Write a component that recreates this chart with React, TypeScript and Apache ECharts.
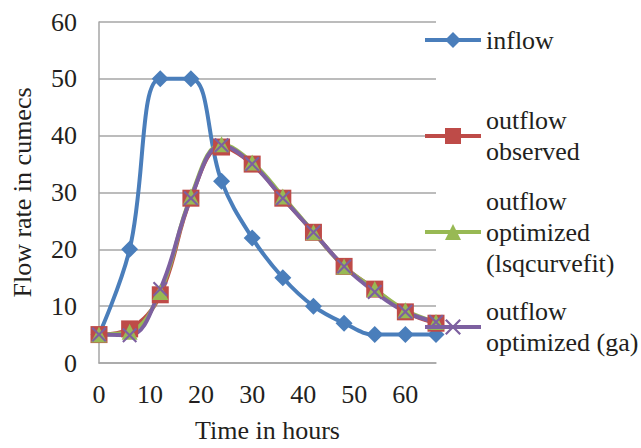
import React, { useEffect, useRef } from "react";
import * as echarts from "echarts";

const hours = [0, 6, 12, 18, 24, 30, 36, 42, 48, 54, 60, 66];
const inflow = [5, 20, 50, 50, 32, 22, 15, 10, 7, 5, 5, 5];
const outflowObserved = [5, 6, 12, 29, 38, 35, 29, 23, 17, 13, 9, 7];
const outflowLsq = [5, 5.5, 12.5, 29.3, 38.5, 35.3, 29.3, 23, 17, 13, 9.3, 7.2];
const outflowGa = [5, 4.9, 13, 29, 38.3, 35, 29, 23, 17, 12.5, 9, 7.2];

const seriesNames = [
  "inflow",
  "outflow\nobserved",
  "outflow\noptimized\n(lsqcurvefit)",
  "outflow\noptimized (ga)",
];
const yTicks = { min: 0, max: 60, interval: 10 };
const xTicks = { min: 0, max: 66, interval: 10 };

const FONT = "'Liberation Serif', 'Times New Roman', serif";
const FS = 26;
const TXT = "#231F20";
const GRID = "#A6A6A6";
const crossPath =
  "path://M0,1L1,0L5,4L9,0L10,1L6,5L10,9L9,10L5,6L1,10L0,9L4,5Z";

export default function App() {
  const ref = useRef<HTMLDivElement>(null);
  useEffect(() => {
    document.body.style.margin = "0";
    document.documentElement.style.overflow = "hidden";
    const chart = echarts.init(ref.current!, null, { renderer: "svg" });
    const pairs = (vals: number[]) => hours.map((h, i) => [h, vals[i]]);
    const LH = 31;
    const IH = 20;
    const iconCenters = [40, 136, 232, 327];
    const legends = seriesNames.map((name, i) => {
      const n = name.split("\n").length;
      const H = (2 * n - 1) * LH;
      return {
        data: [name],
        orient: "vertical",
        left: 423,
        top: iconCenters[i] - H / 2,
        padding: 0,
        itemWidth: 56,
        itemHeight: IH,
        itemGap: 0,
        selectedMode: false,
        lineStyle: { width: 4 },
        textStyle: {
          fontFamily: FONT,
          fontSize: FS,
          color: TXT,
          lineHeight: LH,
          padding: [(n - 1) * LH, 0, 0, 0],
        },
      };
    });
    const base = {
      type: "line",
      smooth: 0.4,
      lineStyle: { width: 4 },
    };
    chart.setOption({
      animation: false,
      legend: legends,
      grid: { left: 99, right: 205, top: 22, height: 347, containLabel: false },
      xAxis: {
        type: "value",
        ...xTicks,
        name: "Time in hours",
        nameLocation: "middle",
        nameGap: 54,
        nameTextStyle: { fontFamily: FONT, fontSize: FS, color: TXT },
        axisLine: { show: true, lineStyle: { color: GRID, width: 1.5 } },
        axisTick: { show: false },
        splitLine: { show: false },
        axisLabel: {
          fontFamily: FONT,
          fontSize: FS,
          color: TXT,
          margin: 18,
          showMaxLabel: false,
          formatter: (v: number) => (v % 10 === 0 ? String(v) : ""),
        },
      },
      yAxis: {
        type: "value",
        ...yTicks,
        name: "Flow rate in cumecs",
        nameLocation: "middle",
        nameGap: 64,
        nameTextStyle: { fontFamily: FONT, fontSize: FS, color: TXT },
        axisLine: { show: true, lineStyle: { color: GRID, width: 1.5 } },
        axisTick: { show: false },
        splitLine: { show: true, lineStyle: { color: GRID, width: 1.5 } },
        axisLabel: { fontFamily: FONT, fontSize: FS, color: TXT, margin: 22 },
      },
      series: [
        {
          ...base,
          name: seriesNames[0],
          data: pairs(inflow),
          color: "#4A7EBB",
          symbol: "diamond",
          symbolSize: 17,
        },
        {
          ...base,
          name: seriesNames[1],
          data: pairs(outflowObserved),
          color: "#BE4B48",
          symbol: "rect",
          symbolSize: 17,
        },
        {
          ...base,
          name: seriesNames[2],
          data: pairs(outflowLsq),
          color: "#98B954",
          symbol: "triangle",
          symbolSize: 16,
        },
        {
          ...base,
          name: seriesNames[3],
          data: pairs(outflowGa),
          color: "#7D60A0",
          symbol: crossPath,
          symbolSize: 15,
        },
      ],
    });
    return () => chart.dispose();
  }, []);
  return <div ref={ref} style={{ width: 641, height: 448 }} />;
}
